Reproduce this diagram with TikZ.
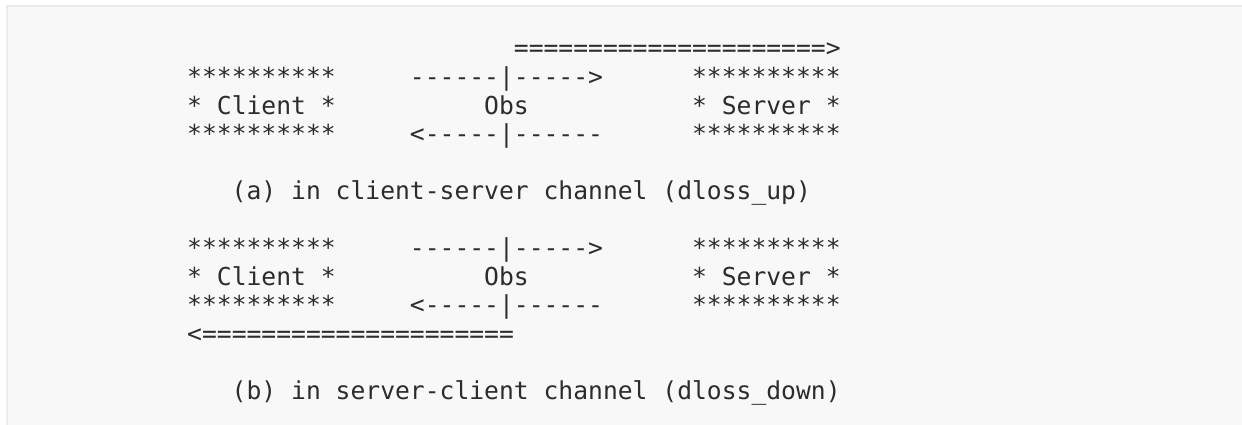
\documentclass[tikz,border=0pt]{standalone}
\usepackage{fontspec}
\setmonofont{DejaVu Sans Mono}
\usepackage{xcolor}
\usepackage{tikz}
\definecolor{boxfill}{HTML}{F8F8F8}
\definecolor{boxline}{HTML}{EBEBEB}
\definecolor{ink}{HTML}{2C2C2C}

\begin{document}
\begin{tikzpicture}
        [x=14.85pt, y=-28.55pt,
        tstyle/.style={anchor=base west, inner sep=0pt, text=ink, font=\ttfamily\fontsize{24.67}{28.55}\selectfont}]

        \useasboundingbox (-187pt,57pt) rectangle (1055pt,-368pt);
        \clip (-187pt,57pt) rectangle (1055pt,-368pt);
        \draw[boxline, fill=boxfill, line width=1.5pt] (-180pt,51pt) rectangle (1075pt,-385pt);

        % (a) client-server channel
        \node[tstyle] (upflow)     at (22,0) {=====================>};
        \node[tstyle] (clienttop)  at (0,1)  {**********};
        \node[tstyle] (client)     at (0,2)  {* Client *};
        \node[tstyle] (clientbot)  at (0,3)  {**********};
        \node[tstyle] (fwd)        at (15,1) {------|----->};
        \node[tstyle] (obs)        at (20,2) {Obs};
        \node[tstyle] (back)       at (15,3) {<-----|------};
        \node[tstyle] (servertop)  at (34,1) {**********};
        \node[tstyle] (server)     at (34,2) {* Server *};
        \node[tstyle] (serverbot)  at (34,3) {**********};
        \node[tstyle] (captiona)   at (3,5)  {(a) in client-server channel (dloss\_up)};

        % (b) server-client channel
        \node[tstyle] (clienttop1) at (0,7)  {**********};
        \node[tstyle] (client1)    at (0,8)  {* Client *};
        \node[tstyle] (clientbot1) at (0,9)  {**********};
        \node[tstyle] (fwd1)       at (15,7) {------|----->};
        \node[tstyle] (obs1)       at (20,8) {Obs};
        \node[tstyle] (back1)      at (15,9) {<-----|------};
        \node[tstyle] (servertop1) at (34,7) {**********};
        \node[tstyle] (server1)    at (34,8) {* Server *};
        \node[tstyle] (serverbot1) at (34,9) {**********};
        \node[tstyle] (downflow)   at (0,10) {<=====================};
        \node[tstyle] (captionb)   at (3,12) {(b) in server-client channel (dloss\_down)};
\end{tikzpicture}
\end{document}
